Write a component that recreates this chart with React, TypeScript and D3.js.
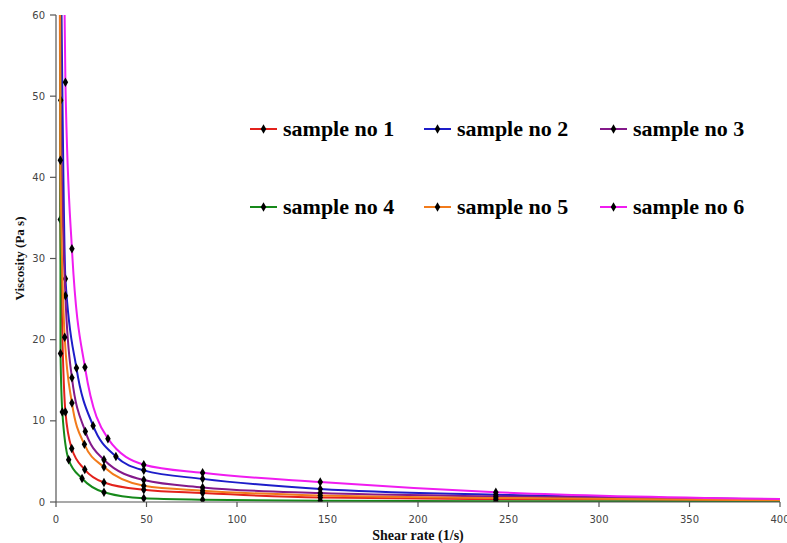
import React from 'react'
import * as d3 from 'd3'

// shear rate (1/s) / viscosity (Pa s), one pair of arrays per sample
const rate1 = [1.8, 2.4, 5.2, 8.7, 15.9, 26.5, 48.5, 81, 146, 243, 405]
const visc1 = [95, 34.8, 11.1, 6.6, 4.0, 2.4, 1.5, 1.1, 0.55, 0.35, 0.25]

const rate2 = [2.4, 5.2, 11.3, 20.5, 33.1, 48.5, 81, 146, 243, 405]
const visc2 = [75, 27.5, 16.5, 9.4, 5.6, 3.9, 2.85, 1.6, 0.9, 0.3]

const rate3 = [2.0, 2.6, 5.2, 8.8, 16.2, 26.5, 48.5, 81, 146, 243, 405]
const visc3 = [100, 49.5, 25.4, 15.3, 8.7, 5.2, 2.7, 1.8, 1.1, 0.7, 0.3]

const rate4 = [2.2, 2.5, 3.5, 7, 14.4, 26.5, 48.5, 81, 146, 243, 405]
const visc4 = [95, 18.3, 11.1, 5.2, 2.9, 1.2, 0.45, 0.28, 0.16, 0.1, 0.05]

const rate5 = [1.8, 2.4, 4.8, 8.8, 15.7, 26.5, 48.5, 81, 146, 243, 405]
const visc5 = [100, 42.1, 20.3, 12.2, 7.1, 4.3, 2.0, 1.4, 0.8, 0.5, 0.2]

const rate6 = [2.9, 5.2, 8.8, 16, 28.7, 48.5, 81, 146, 243, 405]
const visc6 = [95, 51.7, 31.2, 16.6, 7.8, 4.6, 3.6, 2.45, 1.2, 0.35]

const sampleNames = ['sample no 1', 'sample no 2', 'sample no 3', 'sample no 4', 'sample no 5', 'sample no 6']
const sampleColors = ['#e3221c', '#1d1dc9', '#84198a', '#16891a', '#f27b1b', '#f01cf0']

const xTicks = [0, 50, 100, 150, 200, 250, 300, 350, 400]
const yTicks = [0, 10, 20, 30, 40, 50, 60]

const W = 787
const H = 543
const margin = { top: 15, right: 7, bottom: 41, left: 56 }

export default function App() {
  const series = [
    [rate1, visc1],
    [rate2, visc2],
    [rate3, visc3],
    [rate4, visc4],
    [rate5, visc5],
    [rate6, visc6]
  ].map(([r, v], i) => ({
    name: sampleNames[i],
    color: sampleColors[i],
    points: r.map((x, j) => [x, v[j]] as [number, number])
  }))

  const x = d3.scaleLinear().domain([0, 400]).range([margin.left, W - margin.right])
  const y = d3.scaleLinear().domain([0, 60]).range([H - margin.bottom, margin.top])

  const line = d3
    .line<[number, number]>()
    .x(d => x(d[0]))
    .y(d => y(d[1]))
    .curve(d3.curveMonotoneX)

  const diamond = d3.symbol().type(d3.symbolDiamond).size(26)()

  const tickFont = { fontFamily: '"DejaVu Sans", Verdana, sans-serif', fontSize: 10, fill: '#444' }
  const boldSerif = '"Liberation Serif", "Times New Roman", serif'

  // legend grid, 3 columns x 2 rows
  const legendX = [250, 424, 600]
  const legendY = [129, 207]

  return (
    <svg width={W} height={H} style={{ position: 'absolute', left: 0, top: 0, background: '#fff' }}>
      <defs>
        <clipPath id="plot">
          <rect x={x(0)} y={y(60)} width={x(400) - x(0)} height={y(0) - y(60)} />
        </clipPath>
      </defs>

      {/* series */}
      <g clipPath="url(#plot)">
        {series.map(s => (
          <g key={s.name}>
            <path d={line(s.points) || ''} fill="none" stroke={s.color} strokeWidth={2} />
            {s.points.map((p, j) => (
              <path key={j} d={diamond || ''} transform={`translate(${x(p[0])},${y(p[1])})`} fill="#000" />
            ))}
          </g>
        ))}
      </g>

      {/* y axis */}
      <line x1={x(0)} x2={x(0)} y1={y(0)} y2={y(60)} stroke="#555" strokeWidth={1.2} />
      {yTicks.map(t => (
        <g key={t} transform={`translate(0,${y(t)})`}>
          <line x1={x(0) - 6} x2={x(0)} stroke="#555" strokeWidth={1.2} />
          <text x={x(0) - 11} dy="0.35em" textAnchor="end" {...tickFont}>{t}</text>
        </g>
      ))}

      {/* x axis */}
      <line x1={x(0)} x2={x(400)} y1={y(0)} y2={y(0)} stroke="#555" strokeWidth={1.2} />
      {xTicks.map(t => (
        <g key={t} transform={`translate(${x(t)},0)`}>
          <line y1={y(0)} y2={y(0) + 5} stroke="#555" strokeWidth={1.2} />
          <text y={y(0) + 21} textAnchor="middle" {...tickFont}>{t}</text>
        </g>
      ))}

      <text
        x={(x(0) + x(400)) / 2}
        y={540}
        textAnchor="middle"
        fontFamily={boldSerif}
        fontWeight="bold"
        fontSize={14}
        fill="#111"
      >
        Shear rate (1/s)
      </text>
      <text
        transform={`translate(24,${(y(0) + y(60)) / 2}) rotate(-90)`}
        textAnchor="middle"
        fontFamily={boldSerif}
        fontWeight="bold"
        fontSize={13}
        fill="#111"
      >
        Viscosity (Pa s)
      </text>

      {/* legend */}
      {series.map((s, i) => {
        const lx = legendX[i % 3]
        const ly = legendY[Math.floor(i / 3)]
        return (
          <g key={s.name} transform={`translate(${lx},${ly})`}>
            <line x1={0} x2={27} stroke={s.color} strokeWidth={2} />
            <path d={diamond || ''} transform="translate(13.5,0)" fill="#000" />
            <text x={33} dy="0.32em" fontFamily={boldSerif} fontWeight="bold" fontSize={22} fill="#000">
              {s.name}
            </text>
          </g>
        )
      })}
    </svg>
  )
}
